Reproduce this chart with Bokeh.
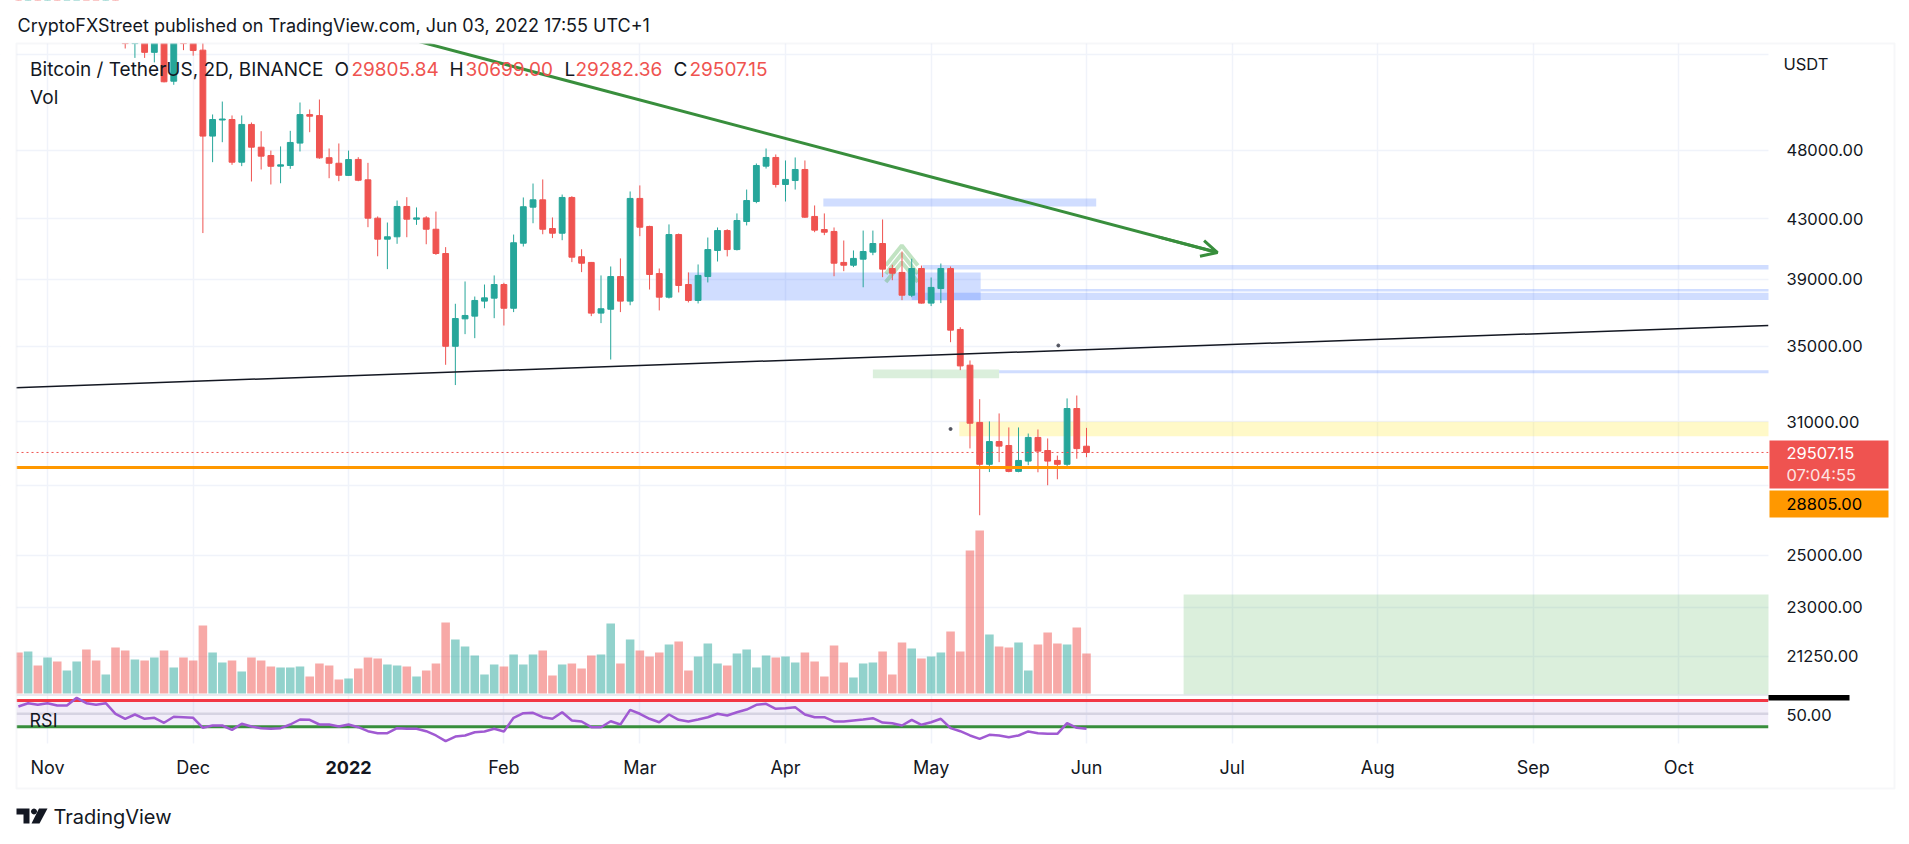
import numpy as np
from bokeh.plotting import figure
from bokeh.models import (Range1d, LinearScale, FixedTicker, Label,
                          BoxAnnotation, PolyAnnotation, Arrow, OpenHead)
from bokeh.embed import file_html
from bokeh.resources import INLINE

# ---------------- data (BTC/USDT, 2D candles, Oct 2021 - Jun 2022) ----------------
opens = [61300, 60300, 61800, 60900, 62900, 61500, 65500, 66900, 64400, 63600,
         64200, 58500, 57000, 58700, 56200, 58600, 53650, 57250, 57100, 56400,
         49110, 50400, 50440, 47090, 50040, 48240, 47600, 46790, 46840, 48560,
         50840, 50760, 47430, 47010, 46100, 47300, 45770, 43030, 41600, 41760,
         43850, 42960, 43050, 42270, 40650, 35010, 36590, 36750, 37650, 37830,
         38670, 37220, 41330, 43800, 44320, 42320, 42000, 44490, 40440, 40070,
         36930, 37160, 39170, 37650, 44420, 42460, 39360, 37890, 41910, 38670,
         37690, 39170, 40850, 42180, 40910, 42800, 44200, 46790, 47450, 45430,
         45720, 46540, 43150, 42250, 42120, 40070, 39890, 40280, 40740, 41310,
         39680, 39430, 38010, 39680, 37530, 38420, 39680, 35970, 33960, 30970,
         28950, 30030, 29840, 28620, 29100, 30230, 29600, 29130, 28950, 31670,
         29805.84]
highs = [61800, 62500, 62300, 63600, 63300, 65600, 68800, 67500, 66300, 65000,
         64500, 59000, 58900, 59300, 59200, 59100, 58300, 57700, 57600, 57300,
         50850, 51920, 50770, 50770, 50200, 49500, 47980, 48300, 49530, 51840,
         51260, 52090, 48140, 48530, 47980, 47470, 47040, 43150, 42730, 44270,
         44510, 43780, 43170, 43490, 41070, 37490, 38860, 37930, 38670, 39240,
         38780, 41910, 44490, 45500, 45800, 43080, 44700, 44580, 40930, 40100,
         39240, 39810, 40330, 44920, 45360, 42510, 39680, 42600, 41980, 39430,
         39940, 41710, 42390, 42270, 43360, 45060, 46990, 48140, 47680, 47220,
         47450, 47220, 43920, 43360, 42390, 41510, 40850, 42180, 42180, 42940,
         39920, 40780, 40310, 39870, 39110, 40000, 39810, 36100, 34220, 32150,
         31020, 31420, 30720, 30720, 30420, 30620, 30180, 29360, 32190, 32340,
         30699.00]
lows = [58100, 59800, 59500, 60100, 60700, 61200, 64600, 62300, 63400, 60500,
        58200, 56550, 55700, 55700, 55300, 53550, 53340, 56400, 55900, 42010,
        47090, 48630, 46890, 46790, 45650, 46540, 45430, 45520, 46590, 47910,
        49420, 47350, 45890, 45670, 46070, 45670, 42410, 40470, 39640, 41290,
        41730, 42570, 41260, 40560, 33980, 32890, 35700, 35470, 37220, 36630,
        36200, 36990, 41110, 42680, 41930, 41670, 41530, 40090, 39450, 36750,
        36340, 34270, 36990, 37400, 41800, 38360, 37090, 37810, 38180, 37570,
        37510, 38800, 40130, 40460, 40850, 42530, 44080, 46610, 45210, 44200,
        45060, 43050, 42070, 41870, 39190, 39510, 39770, 38500, 40540, 39130,
        38940, 37710, 37890, 37500, 37350, 37530, 35240, 33690, 29700, 26670,
        28590, 29050, 28580, 28580, 28910, 28580, 27990, 28260, 28810, 29210,
        29282.36]
closes = [60300, 61800, 60900, 62900, 61500, 65500, 66900, 64400, 63600, 64200,
          58500, 57000, 58700, 56200, 58600, 53600, 57200, 57000, 56370, 49110,
          50440, 50480, 47090, 50040, 48240, 47550, 46780, 46890, 48610, 50840,
          50710, 47420, 47010, 46110, 47290, 45740, 43030, 41600, 41760, 43850,
          42960, 43050, 42270, 40650, 35010, 36610, 36790, 37690, 37850, 38670,
          37220, 41360, 43830, 44320, 42270, 42000, 44490, 40410, 40020, 36930,
          37190, 39170, 37650, 44420, 42410, 39300, 37890, 41910, 38610, 37690,
          39240, 40910, 42180, 40910, 42870, 44270, 46840, 47450, 45430, 45800,
          46540, 43100, 42210, 42070, 40020, 39890, 40330, 40780, 41310, 39640,
          39380, 38010, 39680, 37530, 38490, 39680, 35930, 33920, 30930, 28950,
          30030, 29810, 28620, 29130, 30230, 29570, 29100, 28950, 31670, 29690,
          29507.15]
volumes = [41, 42, 28, 36, 32, 23, 32, 44, 33, 19,
           46, 43, 34, 33, 36, 43, 26, 36, 33, 68,
           41, 31, 33, 22, 36, 33, 27, 26, 26, 27,
           17, 30, 28, 14, 15, 25, 36, 35, 29, 28,
           27, 17, 23, 30, 71, 54, 47, 38, 19, 29,
           27, 39, 29, 39, 43, 18, 29, 30, 25, 38,
           39, 70, 30, 54, 43, 37, 41, 49, 52, 23,
           37, 50, 30, 28, 40, 44, 26, 38, 36, 37,
           31, 41, 32, 17, 48, 31, 16, 30, 31, 42,
           19, 51, 45, 35, 37, 41, 62, 42, 143, 163,
           59, 47, 46, 51, 23, 49, 61, 50, 49, 66,
           40]
rsi = [60.9, 65.9, 63.4, 65.9, 62.4, 62.4, 74.1, 65.9, 63.4, 65.9,
       49.8, 42.2, 48.7, 42.2, 43.7, 36.1, 45.2, 44.6, 43.7, 28.5,
       32.0, 32.0, 25.4, 34.6, 30.5, 27.9, 27.0, 27.9, 33.5, 41.1,
       40.6, 33.5, 33.5, 30.5, 33.5, 29.4, 23.3, 20.3, 20.3, 27.9,
       27.0, 27.0, 23.3, 16.8, 8.1, 15.2, 16.8, 21.8, 22.9, 27.0,
       22.9, 43.7, 50.7, 51.3, 44.6, 42.2, 52.2, 39.6, 38.1, 29.4,
       29.4, 38.5, 33.5, 55.8, 49.8, 42.2, 37.0, 48.7, 40.6, 38.1,
       41.1, 44.6, 49.8, 47.2, 52.2, 56.3, 63.4, 65.0, 57.4, 58.3,
       59.8, 48.7, 44.6, 44.6, 38.1, 38.1, 39.6, 41.1, 43.1, 36.5,
       35.5, 32.0, 40.6, 33.0, 37.0, 42.2, 27.9, 23.3, 16.8, 11.7,
       17.8, 16.8, 14.2, 16.8, 22.9, 20.3, 19.3, 19.3, 35.5, 28.5,
       27.0]

month_ticks = [3, 18, 34, 50, 64, 79, 94, 110, 125, 140, 156, 171]
month_labels = ["Nov", "Dec", "2022", "Feb", "Mar", "Apr", "May", "Jun", "Jul", "Aug", "Sep", "Oct"]
price_ticks = [48000, 43000, 39000, 35000, 31000, 25000, 23000, 21250]
grid_ticks = [56000, 48000, 43000, 39000, 35000, 31000, 28000, 25000, 23000, 21250]
rsi_tick = 50

last_price = 29507.15
alert_price = 28805.00
countdown = "07:04:55"
ohlc_last = [("O", "29805.84"), ("H", "30699.00"), ("L", "29282.36"), ("C", "29507.15")]

# drawings (bar index, price)
trend_x, trend_y = [37.29, 123.49], [58130, 40712]
support_x, support_y = [-0.30, 180.24], [32753, 36201]
# zones: left bar, right bar (None = extends right), top price, bottom price
blue_zones = [(82.9, 111.0, 44416, 43847), (69.0, 99.1, 39426, 37688),
              (93.1, None, 39905, 39617), (99.1, None, 38394, 38239),
              (92.0, None, 38166, 37716), (101.0, None, 33686, 33524)]
green_zones = [(88.0, 101.0, 33724, 33256), (120.0, None, 23470, 19958)]
yellow_zones = [(96.9, None, 31000, 30290)]
chevron_x, chevron_half = 90.98, 1.65
chevron_apex = [41178, 40626, 40080]
chevron_arm = [39873, 39345, 38826]
dot_x, dot_y = [96.0, 107.1], [30644, 35054]
rsi_upper, rsi_mid, rsi_lower = 70, 50, 30

# ---------------- layout (page pixels) ----------------
W, H = 1900, 836
PANE_L, PANE_R, PANE_T, PANE_B = 16, 1768, 43, 743   # price+RSI pane
MAIN_B = 694.5                                        # separator main / RSI
BAR0_X, BAR_W = 17.9, 9.71                            # page x of bar 0, px per bar
P_REF, Y_REF, PX_PER_LN = 48000, 149.8, 621.0         # log price scale
VOL_BASE = 693
RSI_70_Y, RSI_PX = 700, 0.6575

def bar_at(X):
    return (X - BAR0_X) / BAR_W

def price_at(Y):
    return P_REF * np.exp((Y_REF - Y) / PX_PER_LN)

def rsi_at(Y):
    return 70 + (RSI_70_Y - Y) / RSI_PX

GREEN, RED = "#26a69a", "#ef5350"
TXT = "#131722"
FONT = "Inter"
X0, X1 = bar_at(0), bar_at(W)
XL, XR = bar_at(PANE_L), bar_at(PANE_R)

n = len(closes)
idx = list(range(n))
colors = [GREEN if c >= o else RED for o, c in zip(opens, closes)]
body_top = [max(o, c) for o, c in zip(opens, closes)]
body_bot = [min(o, c) for o, c in zip(opens, closes)]

p = figure(width=W, height=H, output_backend="svg", toolbar_location=None, title=None,
           y_axis_type="log", x_axis_location=None, y_axis_location=None,
           x_range=Range1d(X0, X1), y_range=Range1d(float(price_at(H)), float(price_at(0))),
           min_border=0, background_fill_color="white", border_fill_color="white")
p.outline_line_color = None
p.extra_y_ranges = {"vol": Range1d(-(H - VOL_BASE), VOL_BASE),
                    "rsi": Range1d(float(rsi_at(H)), float(rsi_at(0)))}
p.extra_y_scales = {"vol": LinearScale(), "rsi": LinearScale()}

p.xgrid.ticker = FixedTicker(ticks=month_ticks)
p.ygrid.ticker = FixedTicker(ticks=grid_ticks)
p.xgrid.grid_line_color = "#f0f3fa"
p.ygrid.grid_line_color = "#f0f3fa"
p.xgrid.grid_line_width = 1.5
p.ygrid.grid_line_width = 1.5

def ext(r):
    return XR + 2 if r is None else r

# zones
for zones, col, a in ((green_zones, "#4caf50", 0.2), (blue_zones, "#2962ff", 0.22), (yellow_zones, "#ffeb3b", 0.28)):
    p.quad(left=[z[0] for z in zones], right=[ext(z[1]) for z in zones],
           top=[z[2] for z in zones], bottom=[z[3] for z in zones],
           fill_color=col, fill_alpha=a, line_color=None)

# volume
p.vbar(x=idx, width=0.88, top=volumes, bottom=0, fill_color=colors, fill_alpha=0.5,
       line_color=None, y_range_name="vol")

# chevrons
p.multi_line(xs=[[chevron_x - chevron_half, chevron_x, chevron_x + chevron_half]] * len(chevron_apex),
             ys=[[a2, a1, a2] for a1, a2 in zip(chevron_apex, chevron_arm)],
             line_color="#4caf50", line_alpha=0.35, line_width=4)

# candles
p.segment(x0=idx, y0=lows, x1=idx, y1=highs, line_color=colors, line_width=1)
p.vbar(x=idx, width=0.6, top=body_top, bottom=body_bot, fill_color=colors, line_color=colors, line_width=1)

# drawn lines
p.line(support_x, support_y, line_color=TXT, line_width=1.5)
p.line(trend_x, trend_y, line_color="#388e3c", line_width=3)
p.scatter(dot_x, dot_y, size=3, color="#50535e")
p.segment(x0=[XL], x1=[XR], y0=[alert_price], y1=[alert_price], line_color="#ff9800", line_width=3)
p.segment(x0=[XL], x1=[XR], y0=[last_price], y1=[last_price], line_color=RED, line_width=1, line_dash="2 3")

# RSI pane
p.quad(left=[XL], right=[XR], bottom=[rsi_lower], top=[rsi_upper],
       fill_color="#7e57c2", fill_alpha=0.1, line_color=None, y_range_name="rsi")
sep = float(rsi_at(MAIN_B))
p.segment(x0=[XL], x1=[XR], y0=[sep], y1=[sep], line_color="#e0e3eb", line_width=1.5, y_range_name="rsi")
p.segment(x0=[XL], x1=[XR], y0=[rsi_mid], y1=[rsi_mid], line_color="#d6d3e2", line_width=2.5, y_range_name="rsi")
p.segment(x0=[XL], x1=[XR], y0=[rsi_upper], y1=[rsi_upper], line_color="#f23645", line_width=3, y_range_name="rsi")
p.segment(x0=[XL], x1=[XR], y0=[rsi_lower], y1=[rsi_lower], line_color="#388e3c", line_width=3, y_range_name="rsi")
p.line(idx, rsi, line_color="#a05ad2", line_width=2.5, y_range_name="rsi")

# white masks outside the pane (like the pane's clipping)
big, small = float(price_at(-200)), float(price_at(H + 200))
p.quad(left=[X0 - 5, X0 - 5, X0 - 5, XR],
       right=[X1 + 5, X1 + 5, XL, X1 + 5],
       top=[big, float(price_at(PANE_B)), big, big],
       bottom=[float(price_at(PANE_T)), small, small, small],
       fill_color="white", line_color=None)

# arrow head of trend line
t = 0.93
ax0 = trend_x[0] + t * (trend_x[1] - trend_x[0])
ay0 = float(np.exp(np.log(trend_y[0]) + t * (np.log(trend_y[1]) - np.log(trend_y[0]))))
p.add_layout(Arrow(end=OpenHead(size=16, line_color="#388e3c", line_width=3),
                   x_start=ax0, y_start=ay0, x_end=trend_x[1], y_end=trend_y[1],
                   line_color="#388e3c", line_width=3))

# ---------------- boxes (screen units, y from bottom) ----------------
def box(l, r, t_, b, **kw):
    p.add_layout(BoxAnnotation(left=l, right=r, top=H - t_, bottom=H - b,
                               left_units="screen", right_units="screen",
                               top_units="screen", bottom_units="screen", **kw))

box(PANE_L, 1894, PANE_T, 788, fill_alpha=0, line_color="#e0e3eb", line_width=2)
box(PANE_R, 1849, MAIN_B, 700, fill_color="#000000", fill_alpha=1, line_color=None)
box(1769, 1888, 440, 488, fill_color=RED, fill_alpha=1, line_color=None)
box(1769, 1888, 490, 517, fill_color="#ff9800", fill_alpha=1, line_color=None)

# ---------------- texts ----------------
def add_label(text, X, Y, size, color=TXT, align="left", style="normal", xdata=None, ydata=None):
    kw = dict(text=text, text_font=FONT, text_font_size=f"{size}px", text_color=color,
              text_align=align, text_baseline="middle", text_font_style=style)
    if xdata is None:
        kw.update(x=X, x_units="screen")
    else:
        kw.update(x=xdata, x_units="data")
    if ydata is None:
        kw.update(y=H - Y, y_units="screen")
    else:
        kw.update(y=ydata, y_units="data")
    p.add_layout(Label(**kw))

AX_FS = 16.5
add_label("CryptoFXStreet published on TradingView.com, Jun 03, 2022 17:55 UTC+1", 17, 25, 18)
add_label("Bitcoin / TetherUS, 2D, BINANCE", 29.6, 68.5, 19)
for (k, v), xk, xv in zip(ohlc_last, [334, 449, 564, 673], [351, 465, 575, 689]):
    add_label(k, xk, 68.5, 19)
    add_label(v, xv, 68.5, 19, color=RED)
add_label("Vol", 29.6, 97, 19)
add_label("RSI", 29, 720, 18)

# price scale
add_label("USDT", 1783, 63, 16.5)
for tk in price_ticks:
    add_label(f"{tk:.2f}", 1786, 0, AX_FS, ydata=tk)
add_label(f"{rsi_tick:.2f}", 1786, 714.7, AX_FS)
add_label(f"{last_price:.2f}", 1786, 452, AX_FS, color="#ffffff")
add_label(countdown, 1786, 474, AX_FS, color="#fde3e2")
add_label(f"{alert_price:.2f}", 1786, 503, AX_FS, color="#000000")

# time scale
for tk, lab in zip(month_ticks, month_labels):
    add_label(lab, 0, 767, 18, align="center", xdata=tk, style="bold" if lab == "2022" else "normal")

add_label("TradingView", 53, 816, 20)

# TradingView logo
logo_shapes = [
    [(16, 808), (29, 808), (29, 823), (23, 823), (23, 814), (16, 814)],
    [(38.5, 808), (47, 808), (39, 823), (31, 823)],
]
for shp in logo_shapes:
    p.add_layout(PolyAnnotation(xs=[a for a, b in shp], ys=[H - b for a, b in shp],
                                xs_units="screen", ys_units="screen",
                                fill_color=TXT, fill_alpha=1, line_color=None))
ang = np.linspace(0, 2 * np.pi, 12, endpoint=False)
p.add_layout(PolyAnnotation(xs=list(33.5 + 3 * np.cos(ang)), ys=list(H - (811 + 3 * np.sin(ang))),
                            xs_units="screen", ys_units="screen",
                            fill_color=TXT, fill_alpha=1, line_color=None))

open("out.html", "w").write(file_html(p, INLINE))
